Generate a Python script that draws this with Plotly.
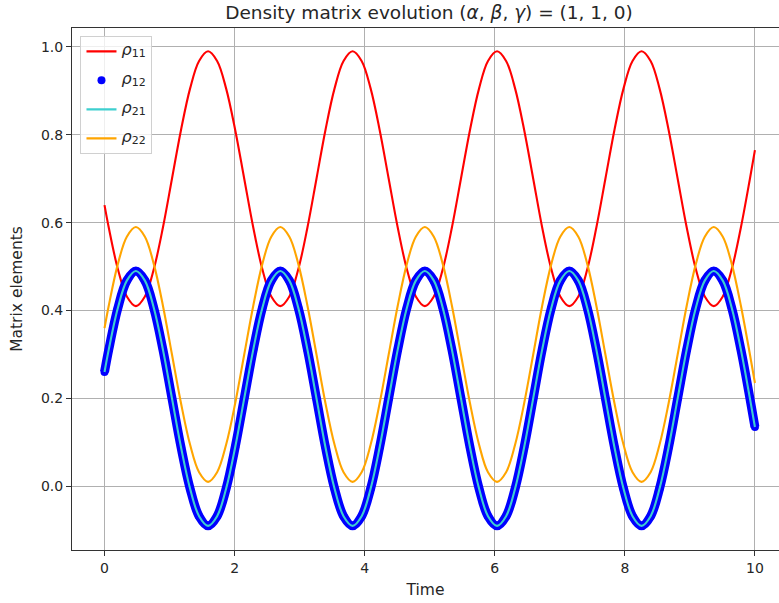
import plotly.graph_objects as go

time = [0.0, 0.065, 0.204, 0.343,
        0.482, 0.621, 0.759, 0.898, 1.037, 1.176, 1.315, 1.454,
        1.592, 1.731, 1.870, 2.009, 2.148, 2.287, 2.425, 2.564,
        2.703, 2.842, 2.981, 3.120, 3.259, 3.397, 3.536, 3.675,
        3.814, 3.953, 4.092, 4.230, 4.369, 4.508, 4.647, 4.786,
        4.925, 5.063, 5.202, 5.341, 5.480, 5.619, 5.758, 5.896,
        6.035, 6.174, 6.313, 6.452, 6.591, 6.729, 6.868, 7.007,
        7.146, 7.285, 7.424, 7.562, 7.701, 7.840, 7.979, 8.118,
        8.257, 8.396, 8.534, 8.673, 8.812, 8.951, 9.090, 9.229,
        9.367, 9.506, 9.645, 9.784, 9.923, 10.0]

rho11 = [0.64, 0.589, 0.495, 0.432,
         0.41, 0.432, 0.495, 0.589, 0.70, 0.811, 0.905, 0.968,
         0.99, 0.968, 0.905, 0.811, 0.70, 0.589, 0.495, 0.432,
         0.41, 0.432, 0.495, 0.589, 0.70, 0.811, 0.905, 0.968,
         0.99, 0.968, 0.905, 0.811, 0.70, 0.589, 0.495, 0.432,
         0.41, 0.432, 0.495, 0.589, 0.70, 0.811, 0.905, 0.968,
         0.99, 0.968, 0.905, 0.811, 0.70, 0.589, 0.495, 0.432,
         0.41, 0.432, 0.495, 0.589, 0.70, 0.811, 0.905, 0.968,
         0.99, 0.968, 0.905, 0.811, 0.70, 0.589, 0.495, 0.432,
         0.41, 0.432, 0.495, 0.589, 0.70, 0.765]

rho12 = [0.26, 0.311, 0.405, 0.468,
         0.49, 0.468, 0.405, 0.311, 0.20, 0.089, -0.005, -0.068,
         -0.09, -0.068, -0.005, 0.089, 0.20, 0.311, 0.405, 0.468,
         0.49, 0.468, 0.405, 0.311, 0.20, 0.089, -0.005, -0.068,
         -0.09, -0.068, -0.005, 0.089, 0.20, 0.311, 0.405, 0.468,
         0.49, 0.468, 0.405, 0.311, 0.20, 0.089, -0.005, -0.068,
         -0.09, -0.068, -0.005, 0.089, 0.20, 0.311, 0.405, 0.468,
         0.49, 0.468, 0.405, 0.311, 0.20, 0.089, -0.005, -0.068,
         -0.09, -0.068, -0.005, 0.089, 0.20, 0.311, 0.405, 0.468,
         0.49, 0.468, 0.405, 0.311, 0.20, 0.135]

rho21 = [0.26, 0.311, 0.405, 0.468,
         0.49, 0.468, 0.405, 0.311, 0.20, 0.089, -0.005, -0.068,
         -0.09, -0.068, -0.005, 0.089, 0.20, 0.311, 0.405, 0.468,
         0.49, 0.468, 0.405, 0.311, 0.20, 0.089, -0.005, -0.068,
         -0.09, -0.068, -0.005, 0.089, 0.20, 0.311, 0.405, 0.468,
         0.49, 0.468, 0.405, 0.311, 0.20, 0.089, -0.005, -0.068,
         -0.09, -0.068, -0.005, 0.089, 0.20, 0.311, 0.405, 0.468,
         0.49, 0.468, 0.405, 0.311, 0.20, 0.089, -0.005, -0.068,
         -0.09, -0.068, -0.005, 0.089, 0.20, 0.311, 0.405, 0.468,
         0.49, 0.468, 0.405, 0.311, 0.20, 0.135]

rho22 = [0.36, 0.411, 0.505, 0.568,
         0.59, 0.568, 0.505, 0.411, 0.30, 0.189, 0.095, 0.032,
         0.01, 0.032, 0.095, 0.189, 0.30, 0.411, 0.505, 0.568,
         0.59, 0.568, 0.505, 0.411, 0.30, 0.189, 0.095, 0.032,
         0.01, 0.032, 0.095, 0.189, 0.30, 0.411, 0.505, 0.568,
         0.59, 0.568, 0.505, 0.411, 0.30, 0.189, 0.095, 0.032,
         0.01, 0.032, 0.095, 0.189, 0.30, 0.411, 0.505, 0.568,
         0.59, 0.568, 0.505, 0.411, 0.30, 0.189, 0.095, 0.032,
         0.01, 0.032, 0.095, 0.189, 0.30, 0.411, 0.505, 0.568,
         0.59, 0.568, 0.505, 0.411, 0.30, 0.235]

x_ticks = [0, 2, 4, 6, 8, 10]
y_ticks = [0.0, 0.2, 0.4, 0.6, 0.8, 1.0]
series_names = ["11", "12", "21", "22"]

FONT = "DejaVu Sans"
TXT = "#262626"


def leg(sub):
    return ("<span style='font-size:16px'><i>ρ</i></span>"
            "<sub><span style='font-size:11px'>" + sub + "</span></sub>")


fig = go.Figure()
fig.add_trace(go.Scatter(x=time, y=rho11, mode="lines", name=leg(series_names[0]),
                         line=dict(color="red", width=2.1, shape="spline")))
fig.add_trace(go.Scatter(x=time, y=rho12, mode="lines", showlegend=False,
                         legendgroup="r12", hoverinfo="skip",
                         line=dict(color="blue", width=9, shape="spline")))
fig.add_trace(go.Scatter(x=time, y=rho12, mode="markers", name=leg(series_names[1]),
                         legendgroup="r12",
                         marker=dict(color="blue", size=8, line=dict(width=0))))
fig.add_trace(go.Scatter(x=time, y=rho21, mode="lines", name=leg(series_names[2]),
                         line=dict(color="#3ECFCF", width=2.1, shape="spline")))
fig.add_trace(go.Scatter(x=time, y=rho22, mode="lines", name=leg(series_names[3]),
                         line=dict(color="orange", width=2.1, shape="spline")))

fig.update_layout(
    width=779, height=603,
    margin=dict(l=72, r=0, t=28, b=53),
    paper_bgcolor="white", plot_bgcolor="white",
    font=dict(family=FONT, size=14, color=TXT),
    title=dict(text="Density matrix evolution (<i>α</i>, <i>β</i>, <i>γ</i>) = (1, 1, 0)",
               x=429 / 779, xref="container", xanchor="center",
               y=1 - 13 / 603, yref="container", yanchor="middle",
               font=dict(family=FONT, size=18.5, color=TXT)),
    legend=dict(x=0.012, y=0.985, xanchor="left", yanchor="top",
                bgcolor="rgba(255,255,255,0.8)", bordercolor="#d0d0d0", borderwidth=1,
                font=dict(family=FONT, size=10, color=TXT)),
    showlegend=True,
)

fig.update_xaxes(
    range=[-0.5, 10.37], tickvals=x_ticks, ticktext=[str(v) for v in x_ticks],
    showgrid=True, gridcolor="#b0b0b0", gridwidth=1, zeroline=False,
    showline=True, linecolor="#333333", linewidth=1.1, mirror=True,
    ticks="outside", ticklen=5, tickcolor="#333333", tickwidth=1.1,
    title=dict(text="Time", standoff=9, font=dict(family=FONT, size=15.5, color=TXT)),
    automargin=False,
)
fig.update_yaxes(
    range=[-0.145, 1.043], tickvals=y_ticks, tickformat=".1f",
    showgrid=True, gridcolor="#b0b0b0", gridwidth=1, zeroline=False,
    showline=True, linecolor="#333333", linewidth=1.1, mirror=False,
    ticks="outside", ticklen=5, tickcolor="#333333", tickwidth=1.1,
    title=dict(text="Matrix elements", standoff=14, font=dict(family=FONT, size=15.5, color=TXT)),
    automargin=False,
)

fig.write_html("out.html", config={"displayModeBar": False},
               post_script="document.body.style.margin='0px';document.body.style.padding='0px';")
